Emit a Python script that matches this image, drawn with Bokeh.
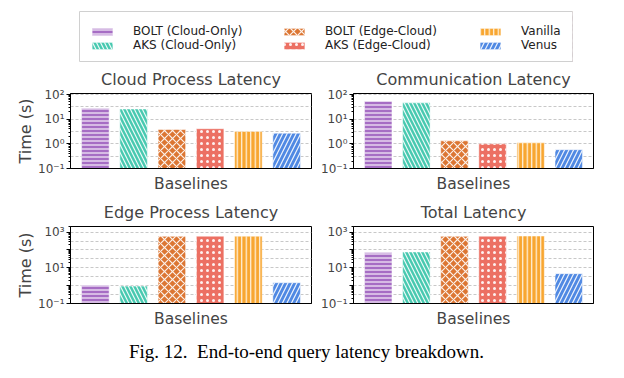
from bokeh.plotting import figure
from bokeh.models import FixedTicker, Legend, LegendItem, ColumnDataSource, Range1d
from bokeh.core.properties import value
from bokeh.layouts import column, row
from bokeh.embed import file_html
from bokeh.resources import INLINE

# ---- data ----
baselines = ["BOLT (Cloud-Only)", "AKS (Cloud-Only)", "BOLT (Edge-Cloud)",
             "AKS (Edge-Cloud)", "Vanilla", "Venus"]
cloud_process = [27.5, 26.0, 3.8, 4.1, 3.2, 2.7]
communication = [53.0, 46.0, 1.33, 1.0, 1.1, 0.58]
edge_process = [1.07, 0.94, 575.0, 590.0, 590.0, 1.46]
total = [71.0, 77.0, 575.0, 590.0, 600.0, 4.7]

titles = ["Cloud Process Latency", "Communication Latency",
          "Edge Process Latency", "Total Latency"]
ticks_small = [0.1, 1, 10, 100]
labels_small = ["10\u207b\u00b9", "10\u2070", "10\u00b9", "10\u00b2"]
ticks_big = [0.1, 1, 10, 100, 1000]
labels_big = ["10\u207b\u00b9", "", "10\u00b9", "", "10\u00b3"]
caption = "Fig. 12.\u00a0 End-to-end query latency breakdown."

# ---- style ----
colors = ["#A66DC4", "#48C9B0", "#DC7633", "#EC7063", "#F8A630", "#5089E3"]
hatches = ["-", "\\", "x", ".", "|", "/"]
hatch_scales = [4, 8, 8, 6, 4.5, 9]
FONT = "DejaVu Sans"


def minor_ticks(lo_exp, hi_exp):
    out = []
    for e in range(lo_exp, hi_exp + 1):
        for k in range(2, 10):
            out.append(k * 10.0 ** e)
    return out


def panel(title, vals, ymax, ticks, labels, grid, ylabel, width, left, right,
          top_b, bottom_b, height, minors, standoff):
    p = figure(width=width, height=height, y_axis_type="log",
               x_range=Range1d(-0.65, 5.65), y_range=Range1d(0.1, ymax),
               output_backend="svg", toolbar_location=None,
               min_border_left=left, min_border_right=right,
               min_border_top=top_b, min_border_bottom=bottom_b, title=title)
    src = ColumnDataSource(dict(x=list(range(len(vals))), top=vals,
                                color=colors, hatch=hatches, scale=hatch_scales))
    p.vbar(x="x", top="top", bottom=0.1, width=0.72, source=src,
           fill_color="color", hatch_pattern="hatch", hatch_scale="scale",
           hatch_color="white", hatch_weight=1.2, hatch_alpha=0.9,
           line_color="white", line_alpha=0.5, line_width=1)
    p.title.text_font = FONT
    p.title.text_font_size = "16px"
    p.title.text_font_style = "normal"
    p.title.align = "center"
    p.title.standoff = standoff
    p.outline_line_color = "black"
    p.outline_line_width = 1
    p.outline_line_alpha = 1

    ya = p.yaxis[0]
    ya.ticker = FixedTicker(ticks=ticks, minor_ticks=minors)
    ya.major_label_overrides = {t: l for t, l in zip(ticks, labels)}
    ya.major_label_text_font = FONT
    ya.major_label_text_font_size = "12px"
    ya.major_tick_in = 0
    ya.major_tick_out = 4
    ya.minor_tick_in = 0
    ya.minor_tick_out = 2
    ya.major_label_standoff = 2
    ya.axis_line_color = "black"
    if ylabel:
        ya.axis_label = "Time (s)"
        ya.axis_label_text_font = FONT
        ya.axis_label_text_font_size = "16px"
        ya.axis_label_text_font_style = "normal"
        ya.axis_label_standoff = 0

    xa = p.xaxis[0]
    xa.ticker = FixedTicker(ticks=[])
    xa.major_label_text_font_size = "0px"
    xa.major_tick_out = 0
    xa.major_tick_in = 0
    xa.minor_tick_out = 0
    xa.major_label_standoff = 0
    xa.axis_label = "Baselines"
    xa.axis_label_text_font = FONT
    xa.axis_label_text_font_size = "15.5px"
    xa.axis_label_text_font_style = "normal"
    xa.axis_label_standoff = 6

    p.xgrid.visible = False
    p.ygrid.ticker = FixedTicker(ticks=grid)
    p.ygrid.grid_line_color = "#c8c8c8"
    p.ygrid.grid_line_dash = "3 2"
    p.ygrid.grid_line_width = 1
    return p


grid_small = [0.316, 1, 3.16, 10, 31.6, 100]
grid_big = [0.316, 1, 3.16, 10, 31.6, 100, 316, 1000]

p1 = panel(titles[0], cloud_process, 110, ticks_small, labels_small, grid_small,
           True, 317, 70, 6, 29, 22, 133, minor_ticks(-1, 1), 10)
p2 = panel(titles[1], communication, 110, ticks_small, labels_small, grid_small,
           False, 286, 36, 10, 29, 22, 133, minor_ticks(-1, 1), 10)
p3 = panel(titles[2], edge_process, 2050, ticks_big, labels_big, grid_big,
           True, 317, 70, 6, 29, 23, 135, minor_ticks(-1, 3), 10)
p4 = panel(titles[3], total, 2050, ticks_big, labels_big, grid_big,
           False, 286, 36, 10, 29, 23, 135, minor_ticks(-1, 3), 10)

# ---- legend figure ----
lf = figure(width=616, height=62, x_range=Range1d(0, 1), y_range=Range1d(0, 1),
            x_axis_type=None, y_axis_type=None, output_backend="svg",
            toolbar_location=None, min_border_left=79, min_border_right=44,
            min_border_top=11, min_border_bottom=0)
lf.xgrid.visible = False
lf.ygrid.visible = False
lf.outline_line_color = "#d0d0d0"
lf.outline_line_width = 1
items = []
for i, name in enumerate(baselines):
    r = lf.vbar(x=[10], top=[1], width=0.5, fill_color=colors[i],
                hatch_pattern=hatches[i], hatch_color="white",
                hatch_scale=hatch_scales[i], hatch_weight=1.2, hatch_alpha=0.9,
                line_color="white", line_alpha=0.5)
    items.append(LegendItem(label=name, renderers=[r]))

for k, xloc in enumerate([10, 202, 398]):
    lg = Legend(items=items[2 * k:2 * k + 2], location=(xloc, 10),
                orientation="vertical", padding=0, margin=0, spacing=0,
                glyph_width=26, glyph_height=9, label_height=14,
                label_standoff=18, label_text_font=FONT,
                label_text_font_size="12px", label_text_color="#222222",
                border_line_color=None, background_fill_alpha=0)
    lf.add_layout(lg, "center")

# ---- caption figure (same side borders as the legend figure) ----
cf = figure(width=616, height=38, x_range=Range1d(0, 1), y_range=Range1d(0, 1),
            x_axis_type=None, y_axis_type=None, output_backend="svg",
            toolbar_location=None, min_border_left=79, min_border_right=44,
            min_border_top=4, min_border_bottom=4)
cf.xgrid.visible = False
cf.ygrid.visible = False
cf.outline_line_color = None
cf.text(x=[0.4605], y=[0.45], text=[caption], text_font=value("Liberation Serif"),
        text_font_size="19px", text_align="center", text_baseline="middle",
        text_color="black")

layout = column(lf, row(p1, p2), row(p3, p4), cf)
open("out.html", "w").write(file_html(layout, INLINE))
